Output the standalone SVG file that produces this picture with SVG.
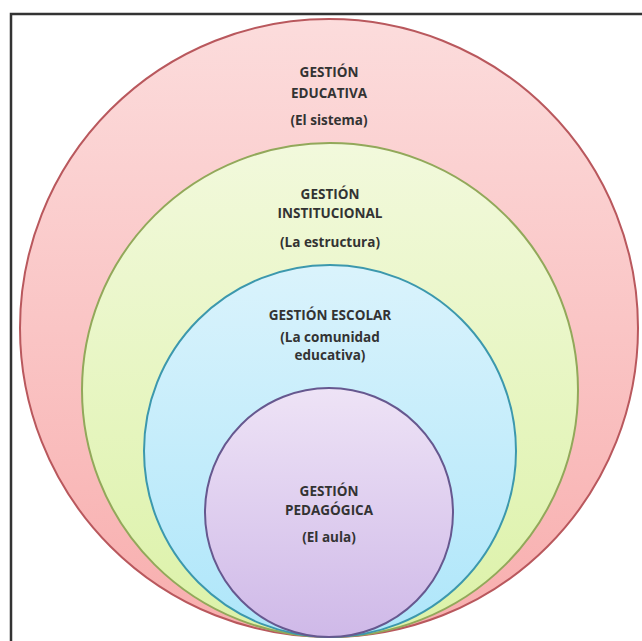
<svg xmlns="http://www.w3.org/2000/svg" width="642" height="641" viewBox="0 0 642 641">
  <defs>
    <linearGradient id="gRed" x1="0" y1="0" x2="0" y2="1">
      <stop offset="0" stop-color="#fcdcdc"/>
      <stop offset="1" stop-color="#f8aeae"/>
    </linearGradient>
    <linearGradient id="gGreen" x1="0" y1="0" x2="0" y2="1">
      <stop offset="0" stop-color="#f2f9dc"/>
      <stop offset="1" stop-color="#dcf2a8"/>
    </linearGradient>
    <linearGradient id="gBlue" x1="0" y1="0" x2="0" y2="1">
      <stop offset="0" stop-color="#daf3fc"/>
      <stop offset="1" stop-color="#aee6fa"/>
    </linearGradient>
    <linearGradient id="gPurple" x1="0" y1="0" x2="0" y2="1">
      <stop offset="0" stop-color="#eee3f6"/>
      <stop offset="1" stop-color="#cfb9e8"/>
    </linearGradient>
    <style>
      .lbl { font-family: "Open Sans", "Liberation Sans", sans-serif; font-weight: bold; font-size: 13.5px; fill: #333333; text-anchor: middle; }
      .ring { stroke-width: 2; }
    </style>
  </defs>
  <rect x="0" y="0" width="642" height="641" fill="#ffffff"/>
  <g id="frame" fill="none" stroke="#333333" stroke-width="2.5">
    <path d="M 11 641 L 11 14 L 642 14"/>
  </g>
  <g id="gestion-educativa">
    <ellipse cx="329" cy="328" rx="309" ry="309" fill="url(#gRed)" stroke="#b9585d" class="ring"/>
    <text class="lbl" x="329" y="77">GESTIÓN</text>
    <text class="lbl" x="329" y="98">EDUCATIVA</text>
    <text class="lbl" x="329" y="125">(El sistema)</text>
  </g>
  <g id="gestion-institucional">
    <ellipse cx="330" cy="390" rx="248" ry="247" fill="url(#gGreen)" stroke="#92a85a" class="ring"/>
    <text class="lbl" x="330" y="199">GESTIÓN</text>
    <text class="lbl" x="330" y="218">INSTITUCIONAL</text>
    <text class="lbl" x="330" y="247">(La estructura)</text>
  </g>
  <g id="gestion-escolar">
    <ellipse cx="330" cy="451" rx="186" ry="186" fill="url(#gBlue)" stroke="#3c98ad" class="ring"/>
    <text class="lbl" x="330" y="320">GESTIÓN ESCOLAR</text>
    <text class="lbl" x="330" y="342">(La comunidad</text>
    <text class="lbl" x="330" y="360">educativa)</text>
  </g>
  <g id="gestion-pedagogica">
    <ellipse cx="329" cy="512.5" rx="124" ry="124.5" fill="url(#gPurple)" stroke="#66588f" class="ring"/>
    <text class="lbl" x="329" y="496">GESTIÓN</text>
    <text class="lbl" x="329" y="515">PEDAGÓGICA</text>
    <text class="lbl" x="329" y="542">(El aula)</text>
  </g>
  <g id="connectors"></g>
</svg>
